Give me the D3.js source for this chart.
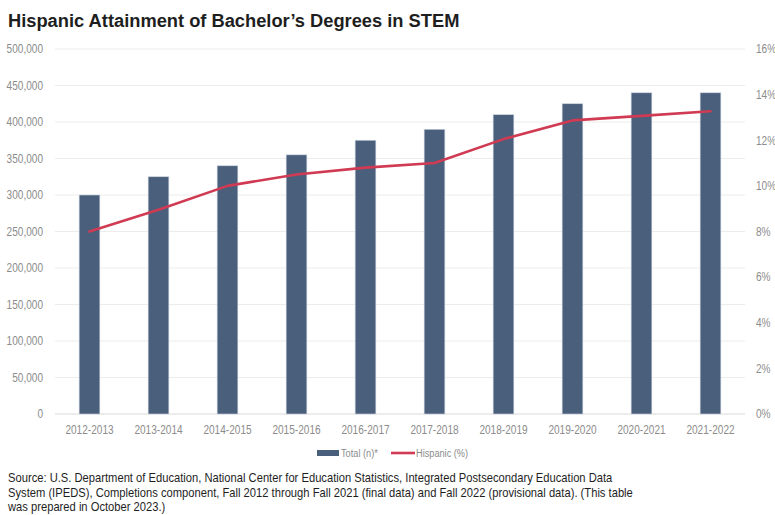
<!DOCTYPE html>
<html>
<head>
<meta charset="utf-8">
<script src="https://cdn.jsdelivr.net/npm/d3@7"></script>
<style>
  html, body { margin: 0; padding: 0; background: #fff; }
  svg { display: block; }
</style>
</head>
<body>
<svg id="chart" width="775" height="515"></svg>
<script>
// Academic years
const years = ["2012-2013","2013-2014","2014-2015","2015-2016","2016-2017",
               "2017-2018","2018-2019","2019-2020","2020-2021","2021-2022"];
// Total STEM bachelor's degrees awarded (n)
const totals = [300000, 325000, 340000, 355000, 375000, 390000, 410000, 425000, 440000, 440000];
// Share of STEM bachelor's degrees earned by Hispanic students (%)
const hispanicPct = [8.0, 8.95, 10.0, 10.5, 10.8, 11.0, 12.05, 12.87, 13.07, 13.27];
// Axis ticks
const leftTicks = [0, 50000, 100000, 150000, 200000, 250000, 300000, 350000, 400000, 450000, 500000];
const rightTicks = [0, 2, 4, 6, 8, 10, 12, 14, 16];

const svg = d3.select("#chart");
const font = "'Liberation Sans', Arial, sans-serif";
const squeeze = "scale(0.84,1)";   // condensed look for the small labels
const grey = "#8c8c8c";
const plotL = 55, plotR = 745, plotT = 49, plotB = 414;

const x = d3.scaleBand().domain(years).range([plotL, plotR]).paddingInner(0.7).paddingOuter(0.35);
const yL = d3.scaleLinear().domain([0, 500000]).range([plotB, plotT]);
const yR = d3.scaleLinear().domain([0, 16]).range([plotB, plotT]);

// Title
svg.append("text")
  .attr("x", 8).attr("y", 27)
  .attr("font-family", font)
  .attr("font-weight", "bold").attr("font-size", 18.3)
  .attr("fill", "#1e1e1e")
  .text("Hispanic Attainment of Bachelor\u2019s Degrees in STEM");

// Gridlines
svg.append("g").selectAll("line").data(leftTicks).join("line")
  .attr("x1", plotL).attr("x2", plotR)
  .attr("y1", d => yL(d)).attr("y2", d => yL(d))
  .attr("stroke", d => d === 0 ? "#d9d9d9" : "#ececec").attr("stroke-width", 1);

function styleAxis(g) {
  g.select(".domain").remove();
  g.selectAll(".tick text")
    .attr("font-family", font).attr("font-size", 12).attr("fill", grey)
    .attr("transform", squeeze);
}

// Left axis
svg.append("g").attr("transform", `translate(${plotL - 12},0)`)
  .call(d3.axisLeft(yL).tickValues(leftTicks).tickFormat(d3.format(",")).tickSize(0).tickPadding(0))
  .call(styleAxis);

// Right axis
svg.append("g").attr("transform", `translate(${plotR + 11},0)`)
  .call(d3.axisRight(yR).tickValues(rightTicks).tickFormat(d => d + "%").tickSize(0).tickPadding(0))
  .call(styleAxis);

// Bottom axis labels
svg.append("g").attr("transform", `translate(0,${plotB + 11})`)
  .call(d3.axisBottom(x).tickSize(0).tickPadding(0))
  .call(styleAxis)
  .selectAll(".tick text").attr("dy", "0.71em");

// Bars
svg.append("g").selectAll("rect").data(totals).join("rect")
  .attr("x", (d, i) => x(years[i]))
  .attr("y", d => yL(d))
  .attr("width", x.bandwidth())
  .attr("height", d => plotB - yL(d))
  .attr("fill", "#4a5f7b")
  .attr("stroke", "#c9d3df").attr("stroke-width", 0.6);

// Hispanic share line
const line = d3.line()
  .x((d, i) => x(years[i]) + x.bandwidth() / 2)
  .y(d => yR(d));
svg.append("path").datum(hispanicPct)
  .attr("d", line)
  .attr("fill", "none")
  .attr("stroke", "#d03a52")
  .attr("stroke-width", 2.6)
  .attr("stroke-linejoin", "round").attr("stroke-linecap", "round");

// Legend
const lg = svg.append("g").attr("transform", "translate(0,453)");
lg.append("rect").attr("x", 317).attr("y", -3).attr("width", 22).attr("height", 6)
  .attr("fill", "#4a5f7b");
lg.append("text").attr("transform", `translate(341,4) scale(0.8,1)`)
  .attr("font-family", font).attr("font-size", 11.5).attr("fill", grey)
  .text("Total (n)*");
lg.append("line").attr("x1", 391).attr("x2", 415).attr("y1", 0).attr("y2", 0)
  .attr("stroke", "#d03a52").attr("stroke-width", 2.6);
lg.append("text").attr("transform", `translate(416,4) scale(0.8,1)`)
  .attr("font-family", font).attr("font-size", 11.5).attr("fill", grey)
  .text("Hispanic (%)");

// Source note
const src = [
  "Source: U.S. Department of Education, National Center for Education Statistics, Integrated Postsecondary Education Data",
  "System (IPEDS), Completions component, Fall 2012 through Fall 2021 (final data) and Fall 2022 (provisional data). (This table",
  "was prepared in October 2023.)"
];
svg.append("g").selectAll("text").data(src).join("text")
  .attr("transform", (d, i) => `translate(8,${482 + i * 14.5}) scale(0.895,1)`)
  .attr("font-family", font).attr("font-size", 12.5).attr("fill", "#1e1e1e")
  .text(d => d);
</script>
</body>
</html>
